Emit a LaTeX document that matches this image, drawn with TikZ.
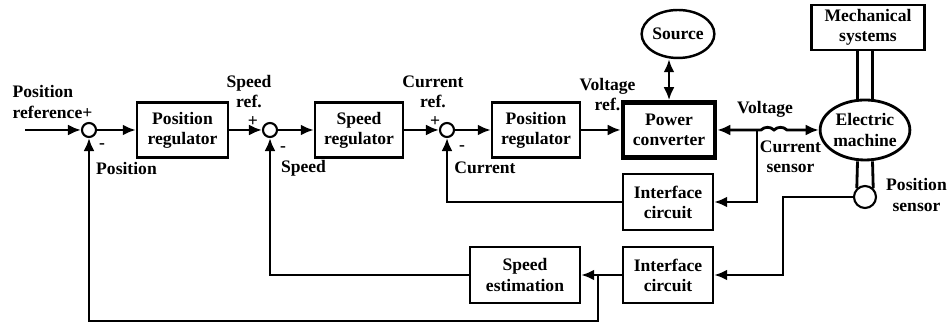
\documentclass[tikz,border=0pt]{standalone}
\usepackage{fontspec}
\setmainfont{Liberation Serif}
\usetikzlibrary{arrows.meta,positioning,shapes.geometric}

\begin{document}
\begin{tikzpicture}[font=\fontsize{10}{11.4}\selectfont\bfseries,
    line width=1.6pt,
    blk/.style={draw,line width=1.4pt,align=center,minimum width=1.76cm,minimum height=1.1cm,inner sep=1pt},
    sum/.style={draw,circle,line width=1.2pt,minimum size=0.28cm,inner sep=0pt},
    lbl/.style={align=center,inner sep=0pt},
    arr/.style={-{Latex[length=2.6mm,width=2.2mm]}},
    darr/.style={{Latex[length=2.6mm,width=2.2mm]}-{Latex[length=2.6mm,width=2.2mm]}}]
    \useasboundingbox (0,0) rectangle (19,6.48);
    % forward path
    \coordinate (in) at (0.50,3.88);
    \node[sum] (sum1) at (1.78,3.88) {};
    \node[blk,minimum width=1.82cm] (posreg) at (3.65,3.88) {Position\\regulator};
    \node[sum] (sum2) at (5.40,3.88) {};
    \node[blk] (spdreg) at (7.18,3.88) {Speed\\regulator};
    \node[sum] (sum3) at (8.94,3.88) {};
    \node[blk] (curreg) at (10.72,3.88) {Position\\regulator};
    \node[blk,line width=2.6pt,minimum width=1.84cm] (conv) at (13.38,3.88) {Power\\converter};
    \node[draw,ellipse,line width=1.4pt,minimum width=1.40cm,minimum height=0.96cm,inner sep=0pt] (src) at (13.56,5.80) {Source};
    \node[draw,ellipse,line width=1.6pt,minimum width=1.76cm,minimum height=1.20cm,inner sep=0pt,align=center] (em) at (17.30,3.88) {Electric\\machine};
    \node[blk,minimum width=2.26cm,minimum height=0.90cm] (mech) at (17.36,5.93) {Mechanical\\systems};
    \node[sum,minimum size=0.44cm] (psens) at (17.30,2.54) {};
    % feedback blocks
    \node[blk,minimum width=1.80cm,minimum height=1.12cm] (if1) at (13.36,2.44) {Interface\\circuit};
    \node[blk,minimum width=1.80cm,minimum height=1.12cm] (if2) at (13.36,0.98) {Interface\\circuit};
    \node[blk,minimum width=2.20cm,minimum height=1.12cm] (spdest) at (10.50,0.98) {Speed\\estimation};
    % connectors
    \draw[arr] (in) -- (sum1.west);
    \draw[arr] (sum1.east) -- (posreg.west);
    \draw[arr] (posreg.east) -- (sum2.west);
    \draw[arr] (sum2.east) -- (spdreg.west);
    \draw[arr] (spdreg.east) -- (sum3.west);
    \draw[arr] (sum3.east) -- (curreg.west);
    \draw[arr] (curreg.east) -- (conv.west);
    \draw[darr] (conv.north) -- (conv.north |- src.south);
    \coordinate (cs1) at (15.22,3.88);
    \coordinate (cs2) at (15.48,3.88);
    \coordinate (cs3) at (15.74,3.88);
    \draw[darr] (conv.east) -- (cs1) to[bend left=45] (cs2) to[bend left=45] (cs3) -- (em.west);
    \draw ([xshift=-0.15cm]em.north) -- ([xshift=-0.15cm]em.north |- mech.south);
    \draw ([xshift=0.15cm]em.north) -- ([xshift=0.15cm]em.north |- mech.south);
    \draw ([xshift=-0.15cm]em.south) -- (psens.133);
    \draw ([xshift=0.15cm]em.south) -- (psens.47);
    \coordinate (ctap) at (15.14,3.88);
    \draw[arr] (ctap) |- (if1.east);
    \draw[arr] (if1.west) -| (sum3.south);
    \coordinate (pbend) at (15.66,2.54);
    \draw[arr] (psens.west) -- (pbend) |- (if2.east);
    \draw[arr] (if2.west) -- (spdest.east);
    \draw[arr] (spdest.west) -| (sum2.south);
    \coordinate (ptap) at (11.96,0.98);
    \coordinate (pbot) at (11.96,0.06);
    \draw[arr] (ptap) -- (pbot) -| (sum1.south);
    % labels
    \node[lbl,align=left] (lposref) at (1.05,4.44) {Position\\reference+};
    \node[lbl] (lm1) at (2.04,3.56) {-};
    \node[lbl] (lpos) at (2.53,3.12) {Position};
    \node[lbl] (lspdref) at (4.98,4.64) {Speed\\ref.};
    \node[lbl] (lp2) at (5.06,4.04) {+};
    \node[lbl] (lm2) at (5.66,3.50) {-};
    \node[lbl] (lspd) at (6.07,3.12) {Speed};
    \node[lbl] (lcurref) at (8.66,4.64) {Current\\ref.};
    \node[lbl] (lp3) at (8.70,4.04) {+};
    \node[lbl] (lm3) at (9.24,3.52) {-};
    \node[lbl] (lcur) at (9.70,3.12) {Current};
    \node[lbl] (lvref) at (12.15,4.58) {Voltage\\ref.};
    \node[lbl] (lvolt) at (15.30,4.30) {Voltage};
    \node[lbl] (lcs) at (15.81,3.34) {Current\\sensor};
    \node[lbl] (lps) at (18.33,2.58) {Position\\sensor};
\end{tikzpicture}
\end{document}
